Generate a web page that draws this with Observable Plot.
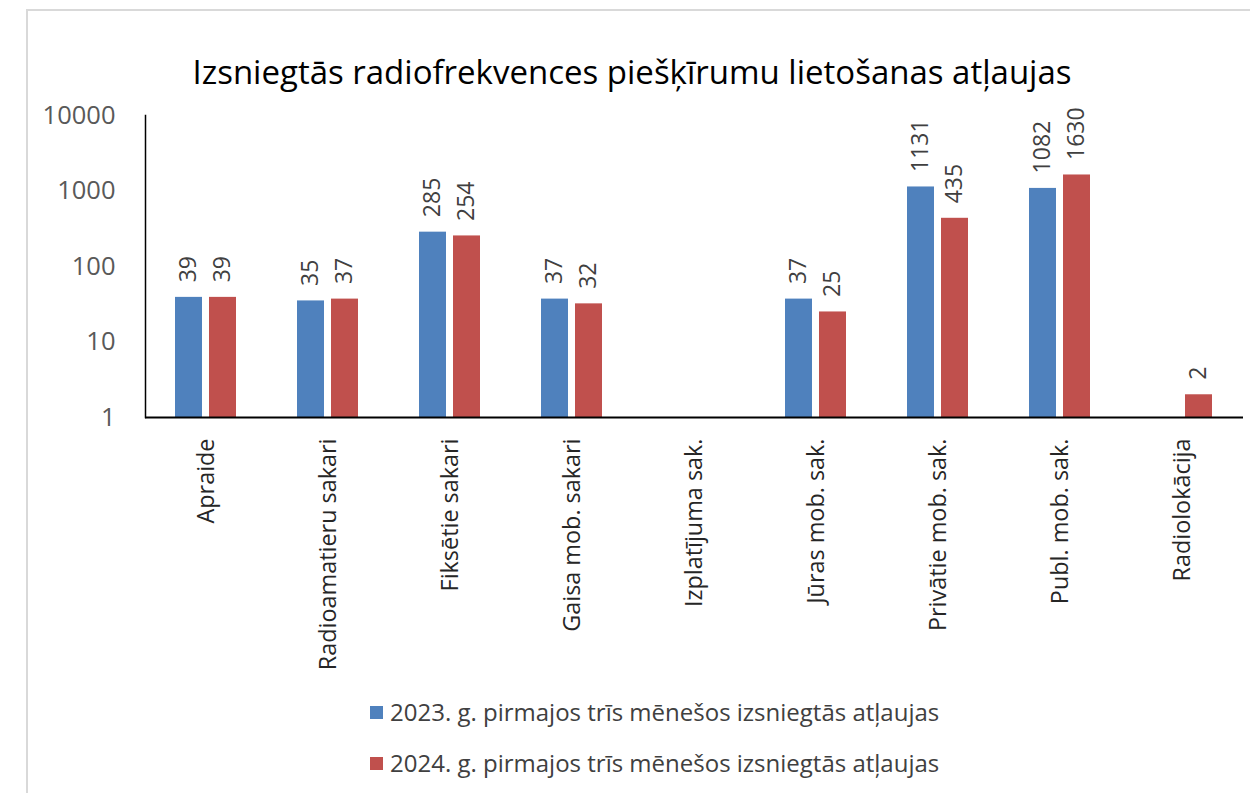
<!DOCTYPE html>
<html>
<head>
<meta charset="utf-8">
<script src="https://cdn.jsdelivr.net/npm/d3@7"></script>
<script src="https://cdn.jsdelivr.net/npm/@observablehq/plot@0.6"></script>
<style>
  html, body { margin: 0; padding: 0; background: #fff; overflow: hidden; width: 1250px; height: 793px; }
  body { position: relative; font-family: "Open Sans", sans-serif; }
  #border { position: absolute; left: 26px; top: 9px; width: 1400px; height: 1000px; border: 2px solid #d9d9d9; box-sizing: border-box; }
  #title { position: absolute; left: 0; top: 50px; width: 1264px; text-align: center; font-size: 33px; color: #000; line-height: 44px; }
  #chart { position: absolute; left: 0; top: 85px; }
  .leg { position: absolute; left: 370px; font-size: 24px; color: #404040; line-height: 30px; display: flex; align-items: center; white-space: nowrap; }
  .leg span.sw { display: inline-block; width: 13px; height: 13px; margin-right: 7px; }
</style>
</head>
<body>
<div id="border"></div>
<div id="title"></div>
<div id="chart"></div>
<div id="legend"></div>
<script>
const title = "Izsniegtās radiofrekvences piešķīrumu lietošanas atļaujas";
const categories = ["Apraide", "Radioamatieru sakari", "Fiksētie sakari", "Gaisa mob. sakari", "Izplatījuma sak.", "Jūras mob. sak.", "Privātie mob. sak.", "Publ. mob. sak.", "Radiolokācija"];
const seriesKeys = ["2023", "2024"];
const seriesNames = ["2023. g. pirmajos trīs mēnešos izsniegtās atļaujas", "2024. g. pirmajos trīs mēnešos izsniegtās atļaujas"];
const seriesColors = ["#4F81BD", "#C0504D"];
const values2023 = [39, 35, 285, 37, null, 37, 1131, 1082, null];
const values2024 = [39, 37, 254, 32, null, 25, 435, 1630, 2];
const yTicks = [1, 10, 100, 1000, 10000];

// keep rows with missing values so every category facet exists
const data = categories.flatMap((c, i) => [
  {category: c, series: seriesKeys[0], value: values2023[i]},
  {category: c, series: seriesKeys[1], value: values2024[i]}
]);
const present = data.filter(d => d.value != null);

document.getElementById("title").textContent = title;

const chart = Plot.plot({
  width: 1250,
  height: 592,
  marginLeft: 143,
  marginRight: 5,
  marginTop: 30,
  marginBottom: 260,
  style: {fontFamily: "'Open Sans', sans-serif", background: "transparent", overflow: "visible"},
  fx: {domain: categories, padding: 0},
  x: {domain: seriesKeys, paddingInner: 0.2, paddingOuter: 0.88, axis: null},
  y: {type: "log", domain: [1, 10000]},
  color: {domain: seriesKeys, range: seriesColors},
  marks: [
    Plot.axisY(yTicks, {tickSize: 0, tickPadding: 30, fontSize: 25.5, color: "#595959", tickFormat: d => String(d), label: null}),
    Plot.barY(data, {fx: "category", x: "series", y1: 1, y2: "value", fill: "series"}),
    Plot.text(present, {fx: "category", x: "series", y: "value", text: d => String(d.value), rotate: -90, textAnchor: "start", lineAnchor: "middle", dy: -15, fontSize: 23, fill: "#404040"}),
    Plot.ruleY([1], {stroke: "#000", strokeWidth: 2}),
    Plot.frame({anchor: "left", facetAnchor: "left", stroke: "#000", strokeWidth: 1.5}),
    Plot.axisFx({anchor: "bottom", tickSize: 0, tickPadding: 21, tickRotate: -90, textAnchor: "end", lineAnchor: "middle", fontSize: 23.4, color: "#262626", label: null})
  ]
});
document.getElementById("chart").appendChild(chart);

const legend = document.getElementById("legend");
seriesNames.forEach((name, i) => {
  const row = document.createElement("div");
  row.className = "leg";
  row.style.top = (697 + i * 51) + "px";
  const sw = document.createElement("span");
  sw.className = "sw";
  sw.style.background = seriesColors[i];
  row.appendChild(sw);
  row.appendChild(document.createTextNode(name));
  legend.appendChild(row);
});
</script>
</body>
</html>
